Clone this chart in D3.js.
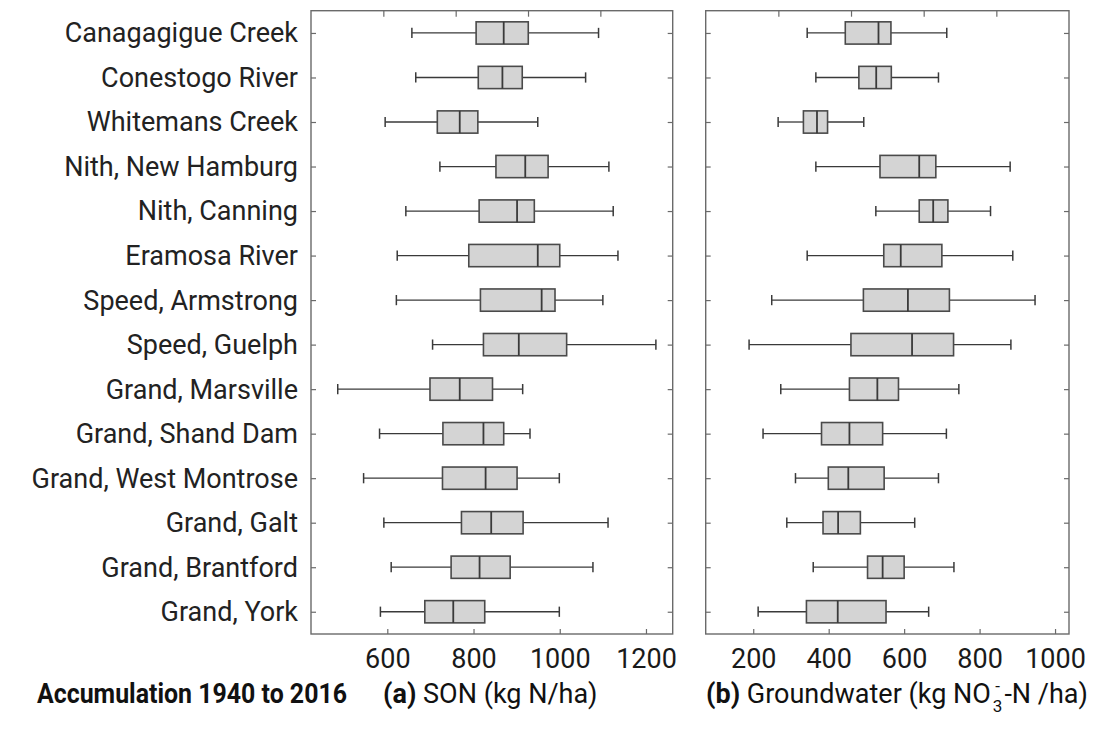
<!DOCTYPE html>
<html>
<head>
<meta charset="utf-8">
<script src="https://cdn.jsdelivr.net/npm/d3@7"></script>
<style>
  html, body { margin: 0; padding: 0; background: #fff; }
  svg { display: block; font-family: Roboto, "Noto Sans", sans-serif; }
</style>
</head>
<body>
<svg id="chart" width="1097" height="730"></svg>
<script>
// Sites, listed top to bottom
const sites = [
  "Canagagigue Creek", "Conestogo River", "Whitemans Creek", "Nith, New Hamburg",
  "Nith, Canning", "Eramosa River", "Speed, Armstrong", "Speed, Guelph",
  "Grand, Marsville", "Grand, Shand Dam", "Grand, West Montrose", "Grand, Galt",
  "Grand, Brantford", "Grand, York"
];

// (a) Soil organic nitrogen accumulation, kg N/ha
const sonLow  = [657, 666, 595, 722, 643, 623, 621, 705, 485, 582, 545, 592, 609, 584];
const sonQ1   = [806, 811, 716, 852, 813, 789, 816, 823, 699, 729, 728, 772, 748, 687];
const sonMed  = [870, 867, 768, 920, 901, 949, 958, 905, 768, 823, 828, 841, 814, 753];
const sonQ3   = [927, 913, 810, 973, 941, 1000, 989, 1016, 844, 870, 901, 915, 885, 826];
const sonHigh = [1090, 1060, 949, 1114, 1124, 1135, 1100, 1223, 914, 931, 999, 1112, 1077, 999];

// (b) Groundwater nitrate accumulation, kg NO3-N/ha
const gwLow  = [343, 366, 266, 366, 525, 343, 249, 189, 273, 226, 312, 289, 359, 213];
const gwQ1   = [444, 480, 333, 536, 640, 546, 492, 459, 455, 381, 399, 385, 503, 341];
const gwMed  = [532, 526, 369, 640, 677, 591, 610, 621, 529, 455, 452, 425, 543, 424];
const gwQ3   = [565, 566, 397, 684, 716, 700, 720, 731, 585, 543, 547, 484, 600, 552];
const gwHigh = [713, 691, 493, 881, 829, 888, 947, 883, 745, 712, 691, 628, 732, 665];

// Axis limits and tick labels
const sonLimits = [423, 1262];
const sonTicks  = [600, 800, 1000, 1200];
const gwLimits  = [74, 1037];
const gwTicks   = [200, 400, 600, 800, 1000];
const topTickFractions = [0.2, 0.4, 0.6, 0.8];

const svg = d3.select("#chart");
const plotTop = 10.7, plotBottom = 634;

const y = d3.scalePoint().domain(sites).range([plotTop, plotBottom]).padding(0.5);
const boxH = y.step() * 0.5;
const capH = y.step() * 0.23;

const frameColor = "#6a6a6a";
const inkColor = "#3a3a3a";
const textSize = 27;

function drawPanel(x0, x1, limits, ticks, lo, q1, med, q3, hi) {
  const x = d3.scaleLinear().domain(limits).range([x0, x1]);
  const g = svg.append("g");
  const rows = sites.map((s, i) => ({ s, lo: lo[i], q1: q1[i], med: med[i], q3: q3[i], hi: hi[i] }));

  // frame
  g.append("rect")
    .attr("x", x0).attr("y", plotTop).attr("width", x1 - x0).attr("height", plotBottom - plotTop)
    .attr("fill", "none").attr("stroke", frameColor).attr("stroke-width", 1.4);

  // bottom axis (ticks pointing inward)
  const axB = g.append("g").attr("transform", `translate(0,${plotBottom})`)
    .call(d3.axisBottom(x).tickValues(ticks).tickFormat(d3.format("d"))
      .tickSizeInner(-5).tickSizeOuter(0).tickPadding(12));
  axB.select(".domain").remove();
  axB.selectAll(".tick line").attr("stroke", frameColor).attr("stroke-width", 1.2);
  axB.selectAll(".tick text").attr("fill", "#1a1a1a").attr("font-size", textSize)
    .attr("font-family", "Roboto, sans-serif").attr("dy", 22);

  // top axis: evenly spaced minor marks along the frame
  const xf = d3.scaleLinear().domain([0, 1]).range([x0, x1]);
  const axT = g.append("g").attr("transform", `translate(0,${plotTop})`)
    .call(d3.axisTop(xf).tickValues(topTickFractions).tickSizeInner(-6).tickSizeOuter(0).tickFormat(""));
  axT.select(".domain").remove();
  axT.selectAll(".tick line").attr("stroke", frameColor).attr("stroke-width", 1.2);

  // left / right category ticks (inward)
  const axL = g.append("g").attr("transform", `translate(${x0},0)`)
    .call(d3.axisLeft(y).tickSizeInner(-5).tickSizeOuter(0).tickFormat(""));
  axL.select(".domain").remove();
  axL.selectAll(".tick line").attr("stroke", frameColor).attr("stroke-width", 1.2);
  const axR = g.append("g").attr("transform", `translate(${x1},0)`)
    .call(d3.axisRight(y).tickSizeInner(-5).tickSizeOuter(0).tickFormat(""));
  axR.select(".domain").remove();
  axR.selectAll(".tick line").attr("stroke", frameColor).attr("stroke-width", 1.2);

  const box = g.selectAll("g.box").data(rows).join("g").attr("class", "box")
    .attr("transform", d => `translate(0,${y(d.s)})`);

  // whiskers
  box.append("line").attr("x1", d => x(d.lo)).attr("x2", d => x(d.q1))
    .attr("stroke", inkColor).attr("stroke-width", 1.3);
  box.append("line").attr("x1", d => x(d.q3)).attr("x2", d => x(d.hi))
    .attr("stroke", inkColor).attr("stroke-width", 1.3);
  box.append("line").attr("x1", d => x(d.lo)).attr("x2", d => x(d.lo))
    .attr("y1", -capH / 2).attr("y2", capH / 2)
    .attr("stroke", inkColor).attr("stroke-width", 1.5);
  box.append("line").attr("x1", d => x(d.hi)).attr("x2", d => x(d.hi))
    .attr("y1", -capH / 2).attr("y2", capH / 2)
    .attr("stroke", inkColor).attr("stroke-width", 1.5);

  // interquartile box
  box.append("rect")
    .attr("x", d => x(d.q1)).attr("width", d => x(d.q3) - x(d.q1))
    .attr("y", -boxH / 2).attr("height", boxH)
    .attr("fill", "#d4d4d4").attr("stroke", "#4a4a4a").attr("stroke-width", 1.6);

  // median
  box.append("line").attr("x1", d => x(d.med)).attr("x2", d => x(d.med))
    .attr("y1", -boxH / 2).attr("y2", boxH / 2)
    .attr("stroke", "#3a3a3a").attr("stroke-width", 1.8);

  return x;
}

drawPanel(311, 672.7, sonLimits, sonTicks, sonLow, sonQ1, sonMed, sonQ3, sonHigh);
drawPanel(705.7, 1069, gwLimits, gwTicks, gwLow, gwQ1, gwMed, gwQ3, gwHigh);

// site names
svg.append("g").selectAll("text").data(sites).join("text")
  .attr("x", 298).attr("y", d => y(d)).attr("dy", "0.35em")
  .attr("text-anchor", "end").attr("font-size", textSize).attr("fill", "#222")
  .text(d => d);

// captions
const capY = 703;
svg.append("text").attr("x", 37).attr("y", capY)
  .attr("font-size", textSize).attr("font-weight", 700).attr("fill", "#111")
  .attr("textLength", 310).attr("lengthAdjust", "spacingAndGlyphs")
  .text("Accumulation 1940 to 2016");

const capA = svg.append("text").attr("x", 383).attr("y", capY)
  .attr("font-size", textSize).attr("fill", "#111");
capA.append("tspan").attr("font-weight", 700).text("(a)");
capA.append("tspan").text(" SON (kg N/ha)");

// NO3- written with the charge sign stacked over the subscript 3
const subSize = 17;
const minusW = subSize * 0.276, digitW = subSize * 0.562;
const capB = svg.append("text").attr("x", 706).attr("y", capY)
  .attr("font-size", textSize).attr("fill", "#111");
capB.append("tspan").attr("font-weight", 700).text("(b)");
capB.append("tspan").text(" Groundwater (kg NO");
capB.append("tspan").attr("font-size", subSize)
  .attr("dx", 2 + (digitW - minusW) / 2).attr("dy", -11).text("-");
capB.append("tspan").attr("font-size", subSize)
  .attr("dx", -((digitW - minusW) / 2 + minusW)).attr("dy", 20).text("3");
capB.append("tspan").attr("dx", 2).attr("dy", -9).text("-N /ha)");
</script>
</body>
</html>
